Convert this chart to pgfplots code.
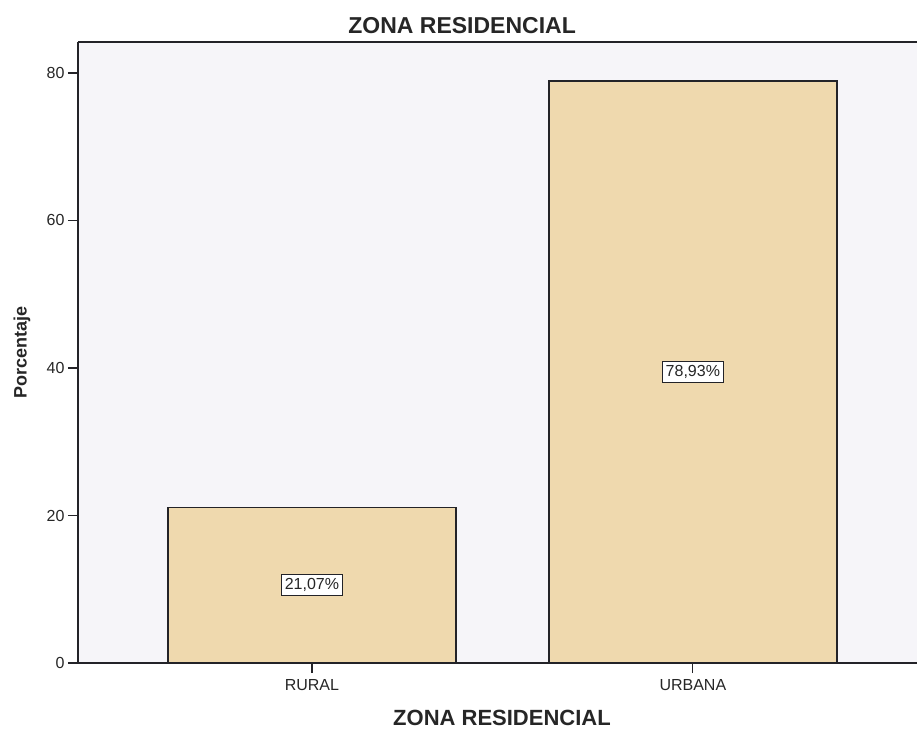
\documentclass[border=0pt]{standalone}
\usepackage{fontspec}
\setmainfont{Liberation Sans}
\usepackage{pgfplots}
\pgfplotsset{compat=1.18}
\definecolor{barfill}{RGB}{239,217,174}
\definecolor{plotbg}{RGB}{246,245,249}
\definecolor{axcol}{RGB}{35,35,40}
\begin{document}
\begin{tikzpicture}
\begin{axis}[
  at={(0,0)}, anchor=south west,
  scale only axis, width=848pt, height=621pt,
  xmin=-0.614, xmax=1.612, ymin=0, ymax=84.2,
  axis background/.style={fill=plotbg},
  axis lines=left,
  axis line style={-, draw=axcol, line width=1.3pt},
  clip=false,
  xtick={0,1}, xticklabels={RURAL,URBANA},
  ytick={0,20,40,60,80},
  tick align=outside, major tick length=10pt,
  tick style={axcol, line width=1.2pt},
  minor tick num=0,
  ticklabel style={font=\fontsize{16}{18}\selectfont, text=black!85},
  xticklabel style={yshift=-3pt},
  /pgf/number format/assume math mode=true,
  xlabel={ZONA RESIDENCIAL}, ylabel={Porcentaje},
  xlabel style={font=\bfseries\fontsize{22}{24}\selectfont, text=black!85, at={(axis description cs:0.5,-0.0886)}, anchor=center},
  ylabel style={font=\bfseries\fontsize{18}{20}\selectfont, text=black!85, at={(axis description cs:-0.066,0.5)}, anchor=center},
  title={ZONA RESIDENCIAL},
  title style={font=\bfseries\fontsize{23}{25}\selectfont, text=black!85, at={(axis description cs:0.453,1.016)}, anchor=center},
]
\addplot[ybar, bar width=0.756, fill=barfill, draw=axcol, line width=1.3pt]
  coordinates {(0,21.07) (1,78.93)};
\addplot[only marks, mark=*, mark options={draw=none, fill=none},
  nodes near coords, point meta=explicit symbolic,
  every node near coord/.style={anchor=center, fill=white, draw=axcol, line width=1pt,
    font=\fontsize{16}{18}\selectfont, text=black!85, inner xsep=3.5pt, inner ysep=4pt}]
  coordinates {(0,10.535) [21,07\%] (1,39.465) [78,93\%]};
\draw[axcol, line width=1.3pt] (rel axis cs:0,1) -- (rel axis cs:1,1);
\end{axis}
\pgfresetboundingbox
\path (-78pt,-68pt) rectangle (839pt,663pt);
\end{tikzpicture}
\end{document}
